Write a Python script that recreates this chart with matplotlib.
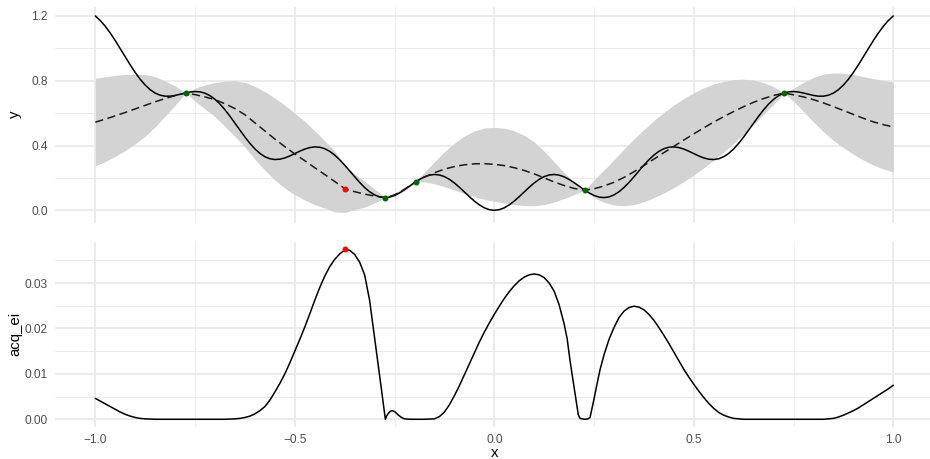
import matplotlib
matplotlib.use("Agg")
import matplotlib.pyplot as plt
from matplotlib.ticker import FixedLocator, NullFormatter

plt.rcParams['font.family'] = ['Liberation Sans', 'DejaVu Sans']

# ---- objective function, sampled on a fine grid ----
x_true = [-1.0, -0.9875, -0.975, -0.9625, -0.95, -0.9375, -0.925, -0.9125, -0.9, -0.8875,
          -0.875, -0.8625, -0.85, -0.8375, -0.825, -0.8125, -0.8, -0.7875, -0.775, -0.7625,
          -0.75, -0.7375, -0.725, -0.7125, -0.7, -0.6875, -0.675, -0.6625, -0.65, -0.6375,
          -0.625, -0.6125, -0.6, -0.5875, -0.575, -0.5625, -0.55, -0.5375, -0.525, -0.5125,
          -0.5, -0.4875, -0.475, -0.4625, -0.45, -0.4375, -0.425, -0.4125, -0.4, -0.3875,
          -0.375, -0.3625, -0.35, -0.3375, -0.325, -0.3125, -0.3, -0.2875, -0.275, -0.2625,
          -0.25, -0.2375, -0.225, -0.2125, -0.2, -0.1875, -0.175, -0.1625, -0.15, -0.1375,
          -0.125, -0.1125, -0.1, -0.0875, -0.075, -0.0625, -0.05, -0.0375, -0.025, -0.0125,
          0.0,
          0.0125, 0.025, 0.0375, 0.05, 0.0625, 0.075, 0.0875, 0.1, 0.1125, 0.125,
          0.1375, 0.15, 0.1625, 0.175, 0.1875, 0.2, 0.2125, 0.225, 0.2375, 0.25,
          0.2625, 0.275, 0.2875, 0.3, 0.3125, 0.325, 0.3375, 0.35, 0.3625, 0.375,
          0.3875, 0.4, 0.4125, 0.425, 0.4375, 0.45, 0.4625, 0.475, 0.4875, 0.5,
          0.5125, 0.525, 0.5375, 0.55, 0.5625, 0.575, 0.5875, 0.6, 0.6125, 0.625,
          0.6375, 0.65, 0.6625, 0.675, 0.6875, 0.7, 0.7125, 0.725, 0.7375, 0.75,
          0.7625, 0.775, 0.7875, 0.8, 0.8125, 0.825, 0.8375, 0.85, 0.8625, 0.875,
          0.8875, 0.9, 0.9125, 0.925, 0.9375, 0.95, 0.9625, 0.975, 0.9875, 1.0]
y_true = [1.2, 1.1714, 1.1359, 1.0943, 1.0479, 0.9984, 0.9478, 0.8980, 0.8512, 0.8091,
          0.7732, 0.7446, 0.7237, 0.7106, 0.7046, 0.7046, 0.7091, 0.7162, 0.7240, 0.7303,
          0.7332, 0.7312, 0.7229, 0.7076, 0.6851, 0.6558, 0.6206, 0.5808, 0.5381, 0.4947,
          0.4524, 0.4133, 0.3791, 0.3513, 0.3309, 0.3183, 0.3134, 0.3155, 0.3234, 0.3355,
          0.35, 0.3648, 0.3779, 0.3873, 0.3916, 0.3895, 0.3803, 0.3640, 0.3409, 0.3121,
          0.2789, 0.2432, 0.2069, 0.1720, 0.1407, 0.1145, 0.0949, 0.0827, 0.0784, 0.0817,
          0.0918, 0.1075, 0.1273, 0.1491, 0.1709, 0.1907, 0.2067, 0.2172, 0.2213, 0.2182,
          0.2080, 0.1912, 0.1688, 0.1423, 0.1135, 0.0844, 0.0571, 0.0335, 0.0154, 0.0039,
          0.0,
          0.0039, 0.0154, 0.0335, 0.0571, 0.0844, 0.1135, 0.1423, 0.1688, 0.1912, 0.2080,
          0.2182, 0.2213, 0.2172, 0.2067, 0.1907, 0.1709, 0.1491, 0.1273, 0.1075, 0.0918,
          0.0817, 0.0784, 0.0827, 0.0949, 0.1145, 0.1407, 0.1720, 0.2069, 0.2432, 0.2789,
          0.3121, 0.3409, 0.3640, 0.3803, 0.3895, 0.3916, 0.3873, 0.3779, 0.3648, 0.35,
          0.3355, 0.3234, 0.3155, 0.3134, 0.3183, 0.3309, 0.3513, 0.3791, 0.4133, 0.4524,
          0.4947, 0.5381, 0.5808, 0.6206, 0.6558, 0.6851, 0.7076, 0.7229, 0.7312, 0.7332,
          0.7303, 0.7240, 0.7162, 0.7091, 0.7046, 0.7046, 0.7106, 0.7237, 0.7446, 0.7732,
          0.8091, 0.8512, 0.8980, 0.9478, 0.9984, 1.0479, 1.0943, 1.1359, 1.1714, 1.2]

# ---- surrogate model prediction (mean and standard error) ----
x_gp = [-1.0, -0.975, -0.95, -0.925, -0.9, -0.875, -0.85, -0.825, -0.8, -0.773,
        -0.75, -0.725, -0.7, -0.675, -0.65, -0.625, -0.6, -0.575, -0.55, -0.525,
        -0.5, -0.475, -0.45, -0.425, -0.4, -0.373, -0.35, -0.325, -0.3, -0.273,
        -0.25, -0.225, -0.197, -0.175, -0.15, -0.125, -0.1, -0.075, -0.05, -0.025,
        0.0, 0.025, 0.05, 0.075, 0.1, 0.125, 0.15, 0.175, 0.2, 0.2266,
        0.25, 0.275, 0.3, 0.325, 0.35, 0.375, 0.4, 0.425, 0.45, 0.475,
        0.5, 0.525, 0.55, 0.575, 0.6, 0.625, 0.65, 0.675, 0.7, 0.726,
        0.75, 0.775, 0.8, 0.825, 0.85, 0.875, 0.9, 0.925, 0.95, 0.975, 1.0]
gp_mean = [0.544, 0.563, 0.583, 0.604, 0.626, 0.648, 0.670, 0.690, 0.708, 0.7251,
           0.714, 0.700, 0.683, 0.658, 0.628, 0.590, 0.540, 0.490, 0.440, 0.393,
           0.348, 0.306, 0.263, 0.221, 0.178, 0.131, 0.115, 0.100, 0.088, 0.0784,
           0.095, 0.130, 0.1759, 0.205, 0.232, 0.254, 0.270, 0.281, 0.287, 0.288,
           0.284, 0.276, 0.263, 0.246, 0.225, 0.200, 0.175, 0.153, 0.135, 0.1246,
           0.133, 0.150, 0.173, 0.203, 0.238, 0.276, 0.316, 0.356, 0.395, 0.434,
           0.472, 0.509, 0.545, 0.578, 0.610, 0.640, 0.667, 0.690, 0.709, 0.7238,
           0.713, 0.700, 0.683, 0.663, 0.640, 0.616, 0.592, 0.568, 0.546, 0.529, 0.514]
gp_se = [0.270, 0.262, 0.250, 0.235, 0.215, 0.190, 0.155, 0.108, 0.060, 0.0,
         0.040, 0.075, 0.105, 0.140, 0.172, 0.200, 0.225, 0.243, 0.253, 0.256,
         0.252, 0.243, 0.228, 0.208, 0.188, 0.144, 0.110, 0.080, 0.042, 0.0,
         0.010, 0.010, 0.0, 0.030, 0.068, 0.108, 0.145, 0.178, 0.203, 0.220,
         0.228, 0.231, 0.228, 0.217, 0.197, 0.165, 0.124, 0.080, 0.038, 0.0,
         0.055, 0.100, 0.140, 0.175, 0.203, 0.223, 0.238, 0.249, 0.255, 0.257,
         0.254, 0.247, 0.235, 0.218, 0.197, 0.170, 0.137, 0.098, 0.055, 0.0,
         0.040, 0.090, 0.138, 0.178, 0.208, 0.230, 0.246, 0.258, 0.267, 0.273, 0.278]

# ---- evaluated design points and the proposed point ----
x_design = [-0.773, -0.273, -0.197, 0.2266, 0.726]
y_design = [0.7251, 0.0784, 0.1759, 0.1246, 0.7238]
x_prop = [-0.373]
y_prop = [0.131]
ei_prop = [0.0374]

# ---- expected improvement ----
x_ei = [-1.0, -0.9875, -0.975, -0.9625, -0.95, -0.9375, -0.925, -0.9125, -0.9, -0.8875,
        -0.875, -0.85, -0.8, -0.75, -0.7, -0.675, -0.65, -0.6375, -0.625, -0.6125,
        -0.6, -0.5875, -0.575, -0.5625, -0.55, -0.5375, -0.525, -0.5125, -0.5, -0.4875,
        -0.475, -0.4625, -0.45, -0.4375, -0.425, -0.4125, -0.4, -0.3875, -0.373, -0.3625,
        -0.35, -0.3375, -0.325, -0.3125, -0.3, -0.2925, -0.285, -0.28, -0.276, -0.273,
        -0.27, -0.265, -0.26, -0.255, -0.25, -0.245, -0.24, -0.2325, -0.225, -0.21,
        -0.2, -0.175, -0.15, -0.1375, -0.125, -0.1125, -0.1, -0.0875, -0.075, -0.0625,
        -0.05, -0.0375, -0.025, -0.0125, 0.0, 0.0125, 0.025, 0.0375, 0.05, 0.0625,
        0.075, 0.0875, 0.1, 0.1125, 0.125, 0.1375, 0.15, 0.1625, 0.175, 0.1825,
        0.19, 0.1975, 0.205, 0.2105, 0.215, 0.2266, 0.235, 0.24, 0.244, 0.25,
        0.2575, 0.265, 0.275, 0.2875, 0.3, 0.3125, 0.325, 0.3375, 0.35, 0.3625,
        0.375, 0.3875, 0.4, 0.4125, 0.425, 0.4375, 0.45, 0.4625, 0.475, 0.4875,
        0.5, 0.5125, 0.525, 0.5375, 0.55, 0.5625, 0.575, 0.5875, 0.6, 0.625,
        0.7, 0.8, 0.825, 0.8375, 0.85, 0.8625, 0.875, 0.8875, 0.9, 0.9125,
        0.925, 0.9375, 0.95, 0.9625, 0.975, 0.9875, 1.0]
acq_ei = [0.0046, 0.0040, 0.0034, 0.0028, 0.0022, 0.0016, 0.0011, 0.0007, 0.0004, 0.0002,
          0.0001, 0.0, 0.0, 0.0, 0.0, 0.0, 0.0001, 0.0002, 0.0004, 0.0007,
          0.0012, 0.0019, 0.0028, 0.0042, 0.0060, 0.0079, 0.0100, 0.0124, 0.0150, 0.0176,
          0.0203, 0.0232, 0.0262, 0.0290, 0.0315, 0.0336, 0.0352, 0.0364, 0.0374, 0.0372,
          0.0363, 0.0346, 0.0318, 0.0262, 0.0180, 0.0130, 0.0080, 0.0046, 0.0019, 0.0,
          0.0007, 0.0014, 0.0018, 0.0019, 0.0017, 0.0013, 0.0009, 0.0004, 0.0001, 0.0,
          0.0, 0.0, 0.0001, 0.0006, 0.0016, 0.0032, 0.0052, 0.0074, 0.0098, 0.0122,
          0.0146, 0.0170, 0.0192, 0.0212, 0.0231, 0.0249, 0.0266, 0.0281, 0.0294, 0.0305,
          0.0313, 0.0318, 0.0320, 0.0318, 0.0312, 0.0300, 0.0282, 0.0252, 0.0210, 0.0178,
          0.0128, 0.0085, 0.0042, 0.0010, 0.0002, 0.0, 0.0001, 0.0004, 0.0020, 0.0045,
          0.0078, 0.0109, 0.0142, 0.0176, 0.0202, 0.0224, 0.0238, 0.0246, 0.0249, 0.0247,
          0.0241, 0.0231, 0.0218, 0.0202, 0.0185, 0.0167, 0.0148, 0.0129, 0.0110, 0.0093,
          0.0077, 0.0062, 0.0048, 0.0035, 0.0024, 0.0015, 0.0009, 0.0005, 0.0002, 0.0,
          0.0, 0.0, 0.0, 0.0001, 0.0002, 0.0005, 0.0009, 0.0014, 0.0019, 0.0025,
          0.0032, 0.0039, 0.0046, 0.0053, 0.0060, 0.0067, 0.0075]

x_ticks = [-1.0, -0.5, 0.0, 0.5, 1.0]
x_labels = ["\u22121.0", "\u22120.5", "0.0", "0.5", "1.0"]
y_ticks = [0.0, 0.4, 0.8, 1.2]
y_labels = ["0.0", "0.4", "0.8", "1.2"]
ei_ticks = [0.0, 0.01, 0.02, 0.03]
ei_labels = ["0.00", "0.01", "0.02", "0.03"]

GRID = "#EBEBEB"
TICK_COL = "#4D4D4D"
W, H = 930, 459

fig = plt.figure(figsize=(W / 100, H / 100), dpi=100)


def panel(left, top, right, bottom):
    return fig.add_axes([left / W, 1 - bottom / H, (right - left) / W, (bottom - top) / H])


def style(ax, ymajor, ylabels, yminor, show_x):
    for s in ax.spines.values():
        s.set_visible(False)
    ax.set_facecolor("white")
    ax.xaxis.set_major_locator(FixedLocator(x_ticks))
    ax.xaxis.set_minor_locator(FixedLocator([-0.75, -0.25, 0.25, 0.75]))
    ax.yaxis.set_major_locator(FixedLocator(ymajor))
    ax.yaxis.set_minor_locator(FixedLocator(yminor))
    ax.set_yticklabels(ylabels)
    if show_x:
        ax.set_xticklabels(x_labels)
    else:
        ax.xaxis.set_major_formatter(NullFormatter())
    ax.grid(which="major", color=GRID, lw=1.37, zorder=0)
    ax.grid(which="minor", color=GRID, lw=0.68, zorder=0)
    ax.tick_params(which="both", length=0, labelsize=8.6, labelcolor=TICK_COL)
    ax.tick_params(axis="y", pad=5.3)
    ax.tick_params(axis="x", pad=5.5)
    ax.set_axisbelow(True)


XLIM = (-1.101, 1.092)

# top panel: model fit
ax1 = panel(55, 6.7, 930, 222.7)
lower = [m - s for m, s in zip(gp_mean, gp_se)]
upper = [m + s for m, s in zip(gp_mean, gp_se)]
ax1.fill_between(x_gp, lower, upper, color="#D3D3D3", lw=0, zorder=1)
ax1.plot(x_true, y_true, color="black", lw=1.1, zorder=3,
         solid_capstyle="round", solid_joinstyle="round")
ax1.plot(x_gp, gp_mean, color="#1a1a1a", lw=1.1, dashes=(5.4, 2.9), zorder=3)
ax1.plot(x_design, y_design, "o", color="#006400", ms=4.3, mew=0, zorder=4)
ax1.plot(x_prop, y_prop, "o", color="#FF0000", ms=4.3, mew=0, zorder=4)
ax1.set_xlim(*XLIM)
ax1.set_ylim(-0.0765, 1.257)
style(ax1, y_ticks, y_labels, [0.2, 0.6, 1.0], False)

# bottom panel: acquisition function
ax2 = panel(55, 241.7, 930, 426.7)
ax2.plot(x_ei, acq_ei, color="black", lw=1.1, zorder=3,
         solid_capstyle="round", solid_joinstyle="round")
ax2.plot(x_prop, ei_prop, "o", color="#FF0000", ms=4.3, mew=0, zorder=4)
ax2.set_xlim(*XLIM)
ax2.set_ylim(-0.00163, 0.0391)
style(ax2, ei_ticks, ei_labels, [0.005, 0.015, 0.025, 0.035], True)

fig.text(15 / W, 1 - 114.7 / H, "y", rotation=90, ha="center", va="center",
         fontsize=10.8, color="black")
fig.text(15 / W, 1 - 334 / H, "acq_ei", rotation=90, ha="center", va="center",
         fontsize=10.8, color="black")
fig.text(494.3 / W, 1 - 453 / H, "x", ha="center", va="center",
         fontsize=10.8, color="black")

fig.savefig("out.png", dpi=100, facecolor="white")
